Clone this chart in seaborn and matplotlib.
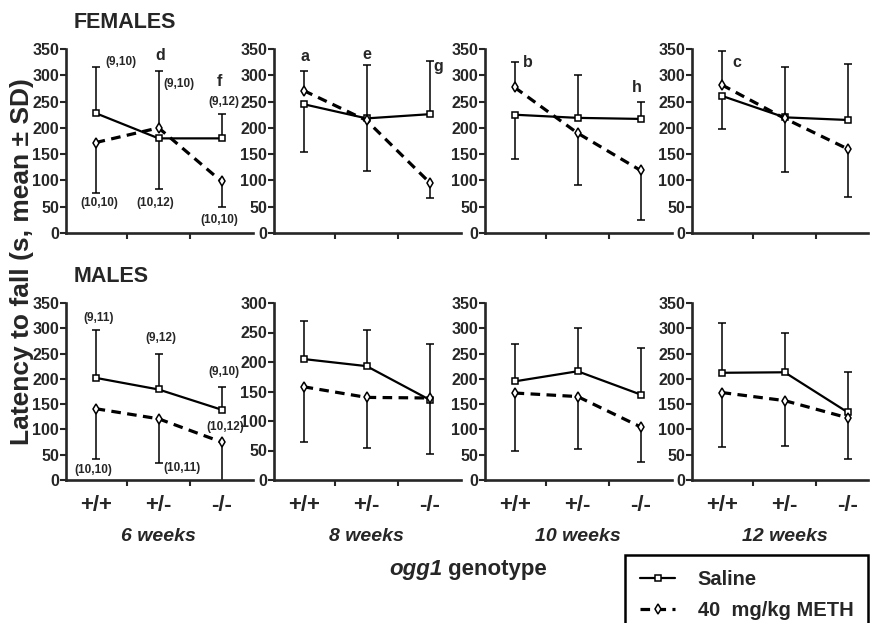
import numpy as np
import pandas as pd
import matplotlib
matplotlib.use("Agg")
import matplotlib.pyplot as plt
import matplotlib.transforms as mtransforms
from matplotlib.lines import Line2D
import seaborn as sns

# ---------- DATA ----------
AGES = ["6 weeks", "8 weeks", "10 weeks", "12 weeks"]
GENOTYPES = ["+/+", "+/-", "-/-"]
SALINE = "Saline"
METH = "40  mg/kg METH"

# rows = age, columns = genotype
F_SAL_MEAN = [[228, 180, 180], [245, 218, 226], [225, 219, 217], [261, 220, 215]]
F_SAL_SD = [[88, 97, 47], [91, 102, 101], [85, 82, 32], [63, 95, 106]]
F_SAL_SIDE = [[1, -1, 1], [-1, 1, 1], [-1, 1, 1], [-1, 1, 1]]
F_METH_MEAN = [[172, 200, 98], [271, 214, 96], [277, 190, 119], [282, 218, 160]]
F_METH_SD = [[96, 108, 48], [38, 97, 29], [48, 99, 94], [65, 102, 92]]
F_METH_SIDE = [[-1, 1, -1], [1, -1, -1], [1, -1, -1], [1, -1, -1]]

M_SAL_MEAN = [[202, 179, 139], [205, 193, 136], [195, 215, 169], [212, 213, 134]]
M_SAL_SD = [[94, 70, 44], [64, 61, 94], [74, 85, 92], [98, 78, 79]]
M_SAL_SIDE = [[1, 1, 1], [1, 1, 1], [1, 1, 1], [1, 1, 1]]
M_METH_MEAN = [[141, 121, 75], [158, 140, 139], [172, 165, 105], [173, 157, 123]]
M_METH_SD = [[99, 87, 80], [93, 85, 95], [115, 103, 70], [108, 90, 81]]
M_METH_SIDE = [[-1, -1, -1], [-1, -1, -1], [-1, -1, -1], [-1, -1, -1]]

Y_MAX = [[350, 350, 350, 350], [350, 300, 350, 350]]

# group sizes / significance letters: (row, age index, x, y, text)
N_LABELS = [
    (0, 0, 0.40, 325, "(9,10)"), (0, 0, 1.33, 283, "(9,10)"), (0, 0, 2.03, 249, "(9,12)"),
    (0, 0, 0.06, 57, "(10,10)"), (0, 0, 0.94, 57, "(10,12)"), (0, 0, 1.97, 25, "(10,10)"),
    (1, 0, 0.05, 320, "(9,11)"), (1, 0, 1.03, 281, "(9,12)"), (1, 0, 2.03, 213, "(9,10)"),
    (1, 0, 2.05, 105, "(10,12)"), (1, 0, -0.03, 20, "(10,10)"), (1, 0, 1.37, 24, "(10,11)"),
]
SIG_LABELS = [
    (0, 0, 1.02, 337, "d"), (0, 0, 1.97, 289, "f"),
    (0, 1, 0.02, 335, "a"), (0, 1, 1.00, 339, "e"), (0, 1, 2.13, 316, "g"),
    (0, 2, 0.21, 325, "b"), (0, 2, 1.94, 276, "h"),
    (0, 3, 0.24, 325, "c"),
]

rows = []
for sex, groups in [("F", [(SALINE, F_SAL_MEAN, F_SAL_SD, F_SAL_SIDE),
                           (METH, F_METH_MEAN, F_METH_SD, F_METH_SIDE)]),
                    ("M", [(SALINE, M_SAL_MEAN, M_SAL_SD, M_SAL_SIDE),
                           (METH, M_METH_MEAN, M_METH_SD, M_METH_SIDE)])]:
    for trt, mean, sd, side in groups:
        for a, age in enumerate(AGES):
            for g, gen in enumerate(GENOTYPES):
                rows.append(dict(sex=sex, age=age, genotype=gen, pos=g, treatment=trt,
                                 mean=mean[a][g], sd=sd[a][g], side=side[a][g]))
df = pd.DataFrame(rows)
df["end"] = df["mean"] + df["side"] * df["sd"]

# ---------- STYLE ----------
sns.set_style("ticks")
plt.rcParams["font.family"] = ["Liberation Sans", "DejaVu Sans"]
plt.rcParams["font.weight"] = "bold"

W, H = 872, 623
fig = plt.figure(figsize=(W / 100, H / 100), dpi=100)

LEFTS = [66, 274, 485, 692]
XMAX = [2.5, 2.5, 2.5, 2.33]
XMIN = -0.47
PX_PER_UNIT = 63
ROW_Y = [(49, 233), (303, 480)]

STYLE = {
    SALINE: dict(marker="s", markersize=4.8, linewidth=1.6, linestyle="-"),
    METH: dict(marker="d", markersize=5.2, linewidth=2.3, linestyle=(0, (3, 2))),
}

for r, sex in enumerate(["F", "M"]):
    top_px, bot_px = ROW_Y[r]
    for a, age in enumerate(AGES):
        width_px = (XMAX[a] - XMIN) * PX_PER_UNIT
        ax = fig.add_axes([LEFTS[a] / W, 1 - bot_px / H, width_px / W, (bot_px - top_px) / H])
        sub = df[(df.sex == sex) & (df.age == age)]

        for trt in [SALINE, METH]:
            d = sub[sub.treatment == trt]
            ax.vlines(d["pos"], d["mean"], d["end"], color="black", linewidth=1.1, zorder=1)
            ax.plot(d["pos"], d["end"], linestyle="none", marker="_", markersize=6,
                    markeredgewidth=1.1, color="black", zorder=1)
            sns.lineplot(data=d, x="pos", y="mean", ax=ax, color="black", estimator=None,
                         markerfacecolor="white", markeredgecolor="black",
                         markeredgewidth=1.1, zorder=3, legend=False, **STYLE[trt])

        ax.set_xlim(XMIN, XMAX[a])
        ax.set_ylim(0, Y_MAX[r][a])
        ax.set_yticks(np.arange(0, Y_MAX[r][a] + 1, 50))
        ax.set_xticks([0, 1, 2])
        ax.set_xticks([0.5, 1.5], minor=True)
        ax.tick_params(axis="x", which="major", length=0, pad=11, labelsize=16)
        ax.tick_params(axis="x", which="minor", length=4, width=1.5)
        ax.tick_params(axis="y", length=4, width=1.5, pad=1, labelsize=11.5)
        if r == 1:
            ax.set_xticklabels(GENOTYPES, fontweight="bold")
        else:
            ax.set_xticklabels([])
        for lab in ax.get_yticklabels():
            lab.set_fontweight("bold")
        ax.set_xlabel("")
        ax.set_ylabel("")
        sns.despine(ax=ax)
        for sp in ["left", "bottom"]:
            ax.spines[sp].set_linewidth(1.9)

        for rr, aa, x, y, txt in N_LABELS:
            if rr == r and aa == a:
                ax.text(x, y, txt, ha="center", va="center", fontsize=8.5, fontweight="bold")
        for rr, aa, x, y, txt in SIG_LABELS:
            if rr == r and aa == a:
                ax.text(x, y, txt, ha="center", va="center", fontsize=11.5, fontweight="bold")

        if r == 1:
            trans = mtransforms.blended_transform_factory(ax.transData, ax.transAxes)
            ax.text(1, -0.322, age, transform=trans, ha="center", va="center",
                    fontsize=14, fontweight="bold", fontstyle="italic")

fig.text(125 / W, 1 - 23 / H, "FEMALES", ha="center", va="center", fontsize=15.5, fontweight="bold")
fig.text(111 / W, 1 - 277 / H, "MALES", ha="center", va="center", fontsize=15.5, fontweight="bold")
fig.text(22 / W, 1 - 262 / H, "Latency to fall (s, mean \u00b1 SD)", rotation=90,
         ha="center", va="center", fontsize=19, fontweight="bold")

t1 = fig.text(389 / W, 1 - 570 / H, "ogg1", ha="left", va="center", fontsize=16,
              fontweight="bold", fontstyle="italic")
plt.gca().annotate(" genotype", xy=(1, 0), xycoords=t1, ha="left", va="bottom",
                   fontsize=16, fontweight="bold", annotation_clip=False)

handles = [
    Line2D([], [], color="black", markerfacecolor="white", markeredgecolor="black",
           markeredgewidth=1.1, **STYLE[SALINE]),
    Line2D([], [], color="black", markerfacecolor="white", markeredgecolor="black",
           markeredgewidth=1.1, **STYLE[METH]),
]
leg = fig.legend(handles, [SALINE, METH], loc="upper left",
                 bbox_to_anchor=(625 / W, 1 - 555 / H), frameon=True, fancybox=False,
                 edgecolor="black", framealpha=1, borderaxespad=0,
                 prop={"size": 14.5, "weight": "bold"}, handlelength=1.75,
                 handletextpad=1.1, borderpad=0.75, labelspacing=0.6)
leg.get_frame().set_linewidth(1.8)

fig.savefig("out.png", dpi=100)
